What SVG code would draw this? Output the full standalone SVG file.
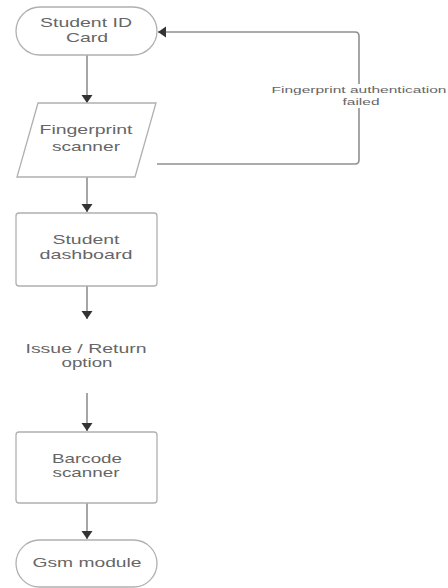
<svg xmlns="http://www.w3.org/2000/svg" width="448" height="588" viewBox="0 0 448 588">
<defs>
<marker id="ah" markerWidth="9" markerHeight="12" refX="8" refY="6" orient="auto" markerUnits="userSpaceOnUse">
<path d="M0,0.5 L8,6 L0,11.5 Z" fill="#333"/>
</marker>
<style>
.n{fill:#fff;stroke:#b0b0b0;stroke-width:1.3}
.t{font-family:"Liberation Sans",Arial,sans-serif;font-size:13px;fill:#666;text-anchor:middle}
.l{font-family:"Liberation Sans",Arial,sans-serif;font-size:9px;fill:#666;text-anchor:middle}
.c{fill:none;stroke:#909090;stroke-width:1.6}
</style>
</defs>
<rect width="448" height="588" fill="#fff"/>
<g id="connectors">
<line class="c" x1="87" y1="55" x2="87" y2="103" marker-end="url(#ah)"/>
<line class="c" x1="87" y1="177" x2="87" y2="212" marker-end="url(#ah)"/>
<line class="c" x1="87" y1="286" x2="87" y2="319" marker-end="url(#ah)"/>
<line class="c" x1="87" y1="393" x2="87" y2="431" marker-end="url(#ah)"/>
<line class="c" x1="87" y1="503" x2="87" y2="539" marker-end="url(#ah)"/>
<path class="c" d="M157,164 H355 Q359,164 359,160 V108 M359,84 V36 Q359,32 355,32 H158" marker-end="url(#ah)"/>
<text class="l" x="359" y="93" textLength="175" lengthAdjust="spacingAndGlyphs">Fingerprint authentication</text>
<text class="l" x="361" y="105" textLength="37" lengthAdjust="spacingAndGlyphs">failed</text>
</g>
<g id="start">
<rect class="n" x="16" y="7" width="141" height="48" rx="24"/>
<text class="t" x="86" y="27" textLength="92" lengthAdjust="spacingAndGlyphs">Student ID</text>
<text class="t" x="87" y="42" textLength="42" lengthAdjust="spacingAndGlyphs">Card</text>
</g>
<g id="fingerprint">
<path class="n" d="M38,103 H156 L135,177 H17 Z"/>
<text class="t" x="86" y="134" textLength="93" lengthAdjust="spacingAndGlyphs">Fingerprint</text>
<text class="t" x="86" y="151" textLength="68" lengthAdjust="spacingAndGlyphs">scanner</text>
</g>
<g id="dashboard">
<rect class="n" x="16" y="213" width="141" height="73" rx="3"/>
<text class="t" x="86" y="244" textLength="67" lengthAdjust="spacingAndGlyphs">Student</text>
<text class="t" x="86" y="259" textLength="93" lengthAdjust="spacingAndGlyphs">dashboard</text>
</g>
<g id="issue">
<text class="t" x="86" y="353" textLength="121" lengthAdjust="spacingAndGlyphs">Issue / Return</text>
<text class="t" x="87" y="367" textLength="51" lengthAdjust="spacingAndGlyphs">option</text>
</g>
<g id="barcode">
<rect class="n" x="16" y="432" width="141" height="71" rx="3"/>
<text class="t" x="87" y="463" textLength="70" lengthAdjust="spacingAndGlyphs">Barcode</text>
<text class="t" x="86" y="477" textLength="67" lengthAdjust="spacingAndGlyphs">scanner</text>
</g>
<g id="gsm">
<rect class="n" x="16" y="540" width="141" height="47" rx="23.5"/>
<text class="t" x="87" y="567" textLength="109" lengthAdjust="spacingAndGlyphs">Gsm module</text>
</g>
</svg>
